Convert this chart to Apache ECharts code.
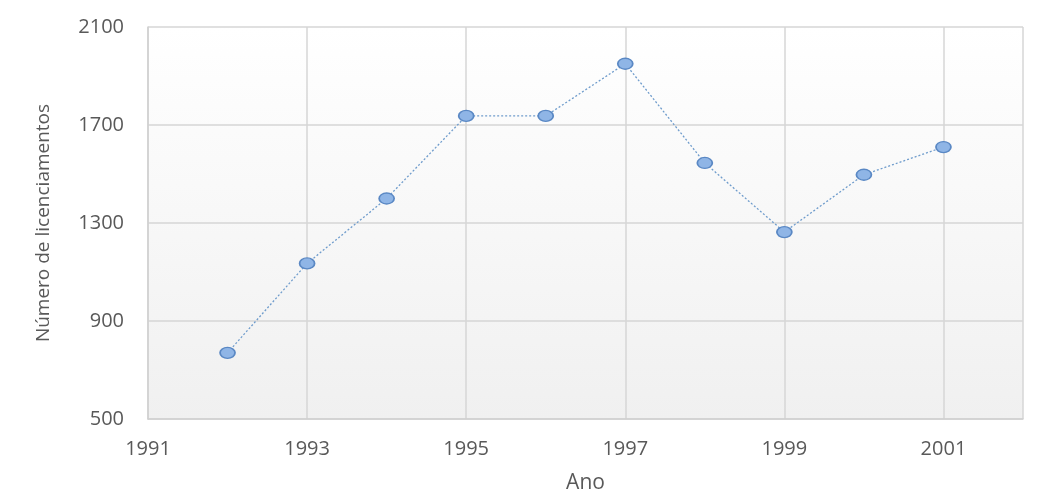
<!DOCTYPE html>
<html>
<head>
    <meta charset="utf-8">
    <title>Licenciamentos</title>
    <script src="https://cdn.jsdelivr.net/npm/echarts@6/dist/echarts.min.js"></script>
    <style>
        html, body { margin: 0; padding: 0; background: #fff; }
    </style>
</head>
<body>
    <div id="main" style="width: 1048px;height:494px;"></div>
    <script type="text/javascript">
        // values
        var anos = [1992, 1993, 1994, 1995, 1996, 1997, 1998, 1999, 2000, 2001];
        var licenciamentos = [770, 1135, 1400, 1737, 1737, 1950, 1545, 1263, 1497, 1610];

        var chartDom = document.getElementById('main');
        var myChart = echarts.init(chartDom, null, {renderer: 'canvas'});

        var points = [];
        for (var i = 0; i < anos.length; i++) {
            points.push([anos[i], licenciamentos[i]]);
        }

        var labelFont = {color: '#595959', fontSize: 20, fontFamily: 'Open Sans', letterSpacing: 1};

        var option = {
            animation: false,
            grid: {
                left: 148, right: 25, top: 27, bottom: 75,
                outerBoundsMode: 'none',
                show: true,
                borderWidth: 0,
                backgroundColor: new echarts.graphic.LinearGradient(0, 0, 0, 1, [
                    {offset: 0, color: '#ffffff'},
                    {offset: 1, color: '#f0f0f0'}
                ])
            },
            xAxis: {
                type: 'value',
                min: 1991, max: 2002, interval: 2,
                name: 'Ano',
                nameLocation: 'middle',
                nameGap: 54,
                nameTextStyle: {color: '#595959', fontSize: 21, fontFamily: 'Open Sans', letterSpacing: 1},
                axisLine: {show: true, lineStyle: {color: '#d0d0d0', width: 1.5}},
                axisTick: {show: false},
                axisLabel: Object.assign({margin: 20, formatter: function (v) { return v > 2001 ? '' : String(v); }}, labelFont),
                splitLine: {show: true, lineStyle: {color: '#d6d6d6', width: 1.5}}
            },
            yAxis: {
                type: 'value',
                min: 500, max: 2100, interval: 400,
                name: 'Número de licenciamentos',
                nameLocation: 'middle',
                nameGap: 95,
                nameRotate: 90,
                nameTextStyle: {color: '#595959', fontSize: 19, fontFamily: 'Open Sans'},
                axisLine: {show: true, lineStyle: {color: '#d0d0d0', width: 1.5}},
                axisTick: {show: false},
                axisLabel: Object.assign({margin: 24, formatter: function (v) { return String(v); }}, labelFont),
                splitLine: {show: true, lineStyle: {color: '#d6d6d6', width: 1.5}}
            },
            series: [{
                type: 'line',
                data: points,
                symbol: 'path://M0,5a6.5,5 0 1,0 13,0a6.5,5 0 1,0 -13,0z',
                symbolSize: [15, 11],
                itemStyle: {color: '#8fb5e6', borderColor: '#5a88c4', borderWidth: 1.5},
                lineStyle: {color: '#6f9ccc', width: 1.3, type: [2, 2]}
            }]
        };
        myChart.setOption(option);
    </script>
</body>
</html>
